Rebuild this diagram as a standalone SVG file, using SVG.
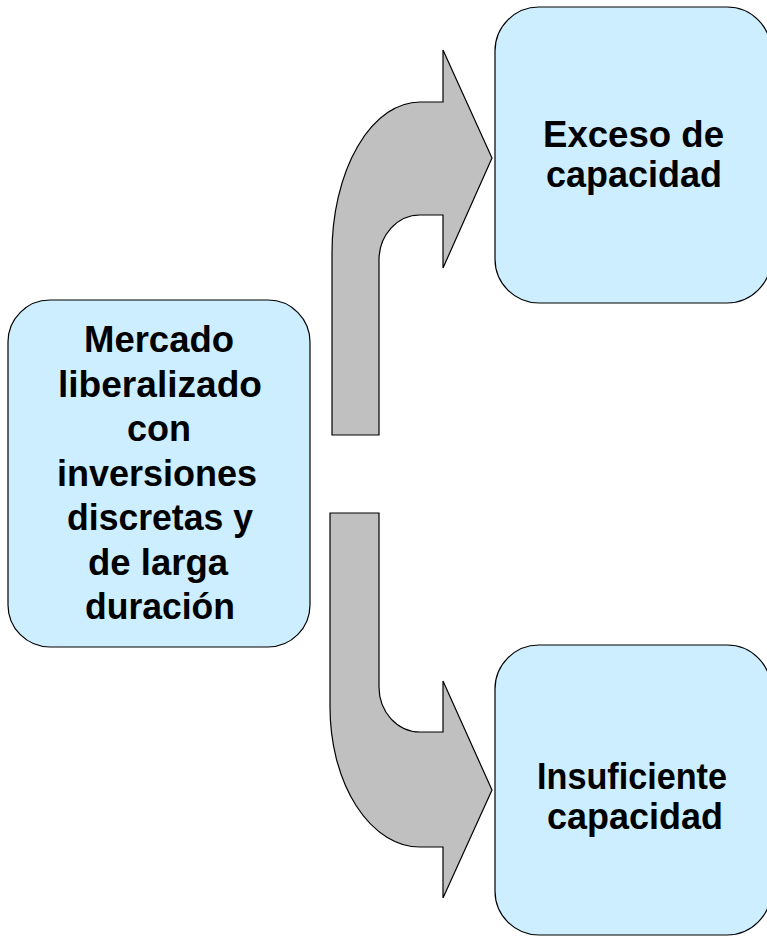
<svg xmlns="http://www.w3.org/2000/svg" width="767" height="937" viewBox="0 0 767 937">
<style>
.box{fill:#cceeff;stroke:#000;stroke-width:1.2}
.arrow{fill:#c0c0c0;stroke:#000;stroke-width:1.2;stroke-linejoin:miter}
.t{font-family:"Liberation Sans",Arial,sans-serif;font-weight:bold;fill:#000;text-anchor:middle;font-size:36px}
</style>
<rect width="767" height="937" fill="#fff"/>
<g id="connectors">
<path class="arrow" d="M332,435 L379,435 L379,260 A41 45 0 0 1 420,215 L443,215 L443,268 L492,158 L443,50 L443,102 L420,102 A88 151 0 0 0 332,253 Z"/>
<path class="arrow" d="M330,513 L379,513 L379,687 A41 45 0 0 0 420,732 L443,732 L443,681 L492,790 L443,898 L443,847 L420,847 A90 140 0 0 1 330,707 Z"/>
</g>
<g id="node-mercado">
<rect class="box" x="8" y="300" width="302" height="347" rx="42" ry="42"/>
<text class="t" x="159" y="352" textLength="150" lengthAdjust="spacingAndGlyphs">Mercado</text>
<text class="t" x="160" y="396.5" textLength="204" lengthAdjust="spacingAndGlyphs">liberalizado</text>
<text class="t" x="159" y="441" textLength="64" lengthAdjust="spacingAndGlyphs">con</text>
<text class="t" x="157" y="485.5" textLength="200" lengthAdjust="spacingAndGlyphs">inversiones</text>
<text class="t" x="160" y="530" textLength="186" lengthAdjust="spacingAndGlyphs">discretas y</text>
<text class="t" x="158" y="574.5" textLength="140" lengthAdjust="spacingAndGlyphs">de larga</text>
<text class="t" x="160" y="619" textLength="150" lengthAdjust="spacingAndGlyphs">duración</text>
</g>
<g id="node-exceso">
<rect class="box" x="495" y="7" width="276" height="296" rx="44" ry="44"/>
<text class="t" x="633.5" y="147" textLength="181" lengthAdjust="spacingAndGlyphs">Exceso de</text>
<text class="t" x="634" y="187" textLength="176" lengthAdjust="spacingAndGlyphs">capacidad</text>
</g>
<g id="node-insuficiente">
<rect class="box" x="495" y="645" width="276" height="290" rx="44" ry="44"/>
<text class="t" x="632" y="789" textLength="190" lengthAdjust="spacingAndGlyphs">Insuficiente</text>
<text class="t" x="635" y="829" textLength="176" lengthAdjust="spacingAndGlyphs">capacidad</text>
</g>
</svg>
